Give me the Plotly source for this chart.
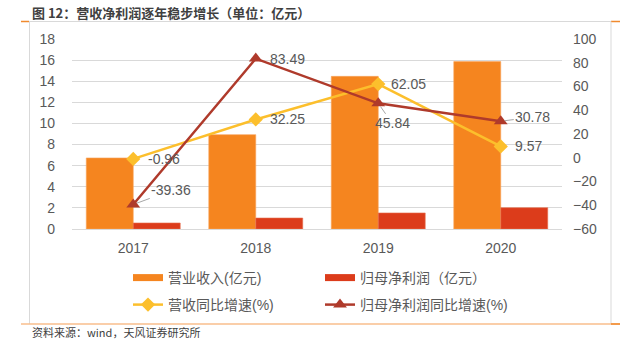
import plotly.graph_objects as go

years = ["2017", "2018", "2019", "2020"]
revenue = [6.73, 8.94, 14.46, 15.86]
net_profit = [0.57, 1.04, 1.52, 2.02]
revenue_growth = [-0.96, 32.25, 62.05, 9.57]
profit_growth = [-39.36, 83.49, 45.84, 30.78]
left_ticks = list(range(0, 19, 2))
right_ticks = list(range(-60, 101, 20))

C_REV = "#F5851F"
C_NP = "#DC3C1B"
C_RG = "#FCBF2C"
C_PG = "#AF3A2B"
TXT = "#595959"
FONT = "Liberation Sans, Arial, Noto Sans CJK SC, sans-serif"

W, H = 630, 341
L, R, T, B = 72, 68, 39, 112
PW, PH = W - L - R, H - T - B

def px(x):
    return (x - L) / PW

def py(y):
    return (H - B - y) / PH

fig = go.Figure()
fig.add_trace(go.Bar(x=years, y=revenue, marker=dict(color=C_REV, line=dict(color="#F9A55C", width=0.6)),
                     showlegend=False, name="营业收入(亿元)"))
fig.add_trace(go.Bar(x=years, y=net_profit, marker=dict(color=C_NP, line=dict(color="#E8704F", width=0.6)),
                     showlegend=False, name="归母净利润（亿元）"))
fig.add_trace(go.Scatter(x=years, y=revenue_growth, yaxis="y2", mode="lines+markers",
                         line=dict(color=C_RG, width=2.5),
                         marker=dict(symbol="diamond", size=11, color=C_RG),
                         name="营收同比增速(%)", legend="legend2"))
fig.add_trace(go.Scatter(x=years, y=profit_growth, yaxis="y2", mode="lines+markers",
                         line=dict(color=C_PG, width=2.5),
                         marker=dict(symbol="triangle-up", size=12, color=C_PG),
                         name="归母净利润同比增速(%)", legend="legend2"))
# legend swatches for the bars (no visible data)
fig.add_trace(go.Scatter(x=years[:1], y=[None], mode="lines", line=dict(color=C_REV, width=7),
                         name="营业收入(亿元)", legend="legend", hoverinfo="skip"))
fig.add_trace(go.Scatter(x=years[:1], y=[None], mode="lines", line=dict(color=C_NP, width=7),
                         name="归母净利润（亿元）", legend="legend", hoverinfo="skip"))

annotations = []
plain = [
    (0, revenue_growth[0], 13, 0),
    (1, profit_growth[1], 12, 0),
    (1, revenue_growth[1], 12, 0),
    (2, revenue_growth[2], 11, 0),
    (3, revenue_growth[3], 12, 0),
]
for xi, v, xs, ys in plain:
    annotations.append(dict(x=xi, y=v, xref="x", yref="y2", text=f"{v:.2f}", showarrow=False,
                            xanchor="left", yanchor="middle", xshift=xs, yshift=ys,
                            font=dict(size=14, color=TXT, family=FONT)))
leader = [
    (0, profit_growth[0], 38, -14),
    (2, profit_growth[2], 14, 20),
    (3, profit_growth[3], 32, -4),
]
for xi, v, ax, ay in leader:
    annotations.append(dict(x=xi, y=v, xref="x", yref="y2", text=f"{v:.2f}", showarrow=True,
                            arrowhead=0, arrowwidth=1, arrowcolor="#A6A6A6", ax=ax, ay=ay,
                            standoff=4,
                            font=dict(size=14, color=TXT, family=FONT)))

annotations.append(dict(x=px(30), y=py(12), xref="paper", yref="paper",
                        text="<b>图 12：营收净利润逐年稳步增长（单位：亿元）</b>",
                        showarrow=False, xanchor="left", yanchor="middle",
                        font=dict(size=13, color="#404040", family="Noto Sans CJK SC, sans-serif")))
annotations.append(dict(x=px(30), y=py(332), xref="paper", yref="paper", text="资料来源：wind，天风证券研究所",
                        showarrow=False, xanchor="left", yanchor="middle",
                        font=dict(size=11, color="#404040", family="Noto Sans CJK SC, sans-serif")))

shapes = []
def hline(x0, x1, y, color, w=1):
    shapes.append(dict(type="line", xref="paper", yref="paper", x0=px(x0), x1=px(x1), y0=py(y), y1=py(y),
                       line=dict(color=color, width=w)))
def vline(x, y0, y1, color, w=1):
    shapes.append(dict(type="line", xref="paper", yref="paper", x0=px(x), x1=px(x), y0=py(y0), y1=py(y1),
                       line=dict(color=color, width=w)))

hline(21, 620, 21.5, "#D9D9D9")
hline(21, 29, 21.5, "#F08A2E", 1.5)
hline(611, 620, 21.5, "#F08A2E", 1.5)
vline(29.5, 21.5, 324, "#D9D9D9")
vline(611, 21.5, 324, "#D9D9D9")
hline(21, 620, 324, "#F8BE8C", 1.5)
hline(611, 620, 324, "#F08A2E", 1.5)

fig.update_layout(
    width=W, height=H,
    margin=dict(l=L, r=R, t=T, b=B, pad=0, autoexpand=False),
    paper_bgcolor="white", plot_bgcolor="white",
    barmode="group", bargap=0.233, bargroupgap=0,
    font=dict(family=FONT, size=14, color=TXT),
    xaxis=dict(type="category", categoryorder="array", categoryarray=years, range=[-0.5, 3.5],
               showgrid=False, showline=True, linecolor="#D9D9D9", linewidth=1, automargin=False,
               ticks="", tickfont=dict(size=14, color=TXT), ticklabelstandoff=6),
    yaxis=dict(range=[0, 18], tickvals=left_ticks, showgrid=True, gridcolor="#D9D9D9", gridwidth=1,
               zeroline=False, showline=False, ticks="", tickfont=dict(size=14, color=TXT),
               ticklabelstandoff=16, automargin=False),
    yaxis2=dict(range=[-60, 100], tickvals=right_ticks, overlaying="y", side="right", showgrid=False,
                zeroline=False, showline=False, ticks="", tickfont=dict(size=14, color=TXT),
                ticklabelstandoff=10, automargin=False),
    legend=dict(orientation="h", xref="container", yref="container", x=128 / W, y=1 - 262 / H,
                xanchor="left", yanchor="top", entrywidth=147, entrywidthmode="pixels",
                font=dict(size=14, color=TXT, family=FONT), bgcolor="rgba(0,0,0,0)",
                itemclick=False, traceorder="normal"),
    legend2=dict(orientation="h", xref="container", yref="container", x=128 / W, y=1 - 289 / H,
                 xanchor="left", yanchor="top", entrywidth=147, entrywidthmode="pixels",
                 font=dict(size=14, color=TXT, family=FONT), bgcolor="rgba(0,0,0,0)",
                 itemclick=False, traceorder="normal"),
    annotations=annotations,
    shapes=shapes,
)

fig.write_html("out.html")
